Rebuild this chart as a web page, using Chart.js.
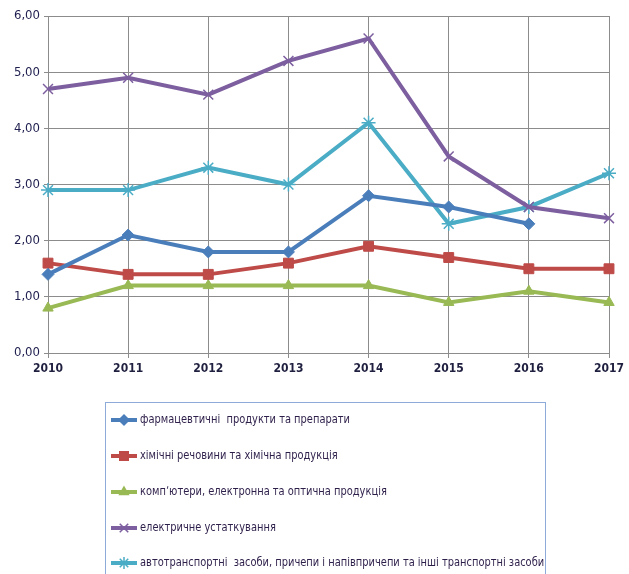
<!DOCTYPE html>
<html>
<head>
<meta charset="utf-8">
<script src="https://cdn.jsdelivr.net/npm/chart.js"></script>
<style>
  html, body { margin: 0; padding: 0; background: #fff; }
  #wrap { width: 629px; height: 574px; }
</style>
</head>
<body>
<div id="wrap"><canvas id="myChart" width="629" height="574"></canvas></div>
<script>
// data
var years = ['2010', '2011', '2012', '2013', '2014', '2015', '2016', '2017'];
var pharma = [1.4, 2.1, 1.8, 1.8, 2.8, 2.6, 2.3, null];
var chemical = [1.6, 1.4, 1.4, 1.6, 1.9, 1.7, 1.5, 1.5];
var computers = [0.8, 1.2, 1.2, 1.2, 1.2, 0.9, 1.1, 0.9];
var electric = [4.7, 4.9, 4.6, 5.2, 5.6, 3.5, 2.6, 2.4];
var vehicles = [2.9, 2.9, 3.3, 3.0, 4.1, 2.3, 2.6, 3.2];
var seriesNames = [
  'фармацевтичні  продукти та препарати',
  'хімічні речовини та хімічна продукція',
  'комп\u02bcютери, електронна та оптична продукція',
  'електричне устаткування',
  'автотранспортні  засоби, причепи і напівпричепи та інші транспортні засоби'
];
var yTicks = [0, 1, 2, 3, 4, 5, 6];

var fontFam = '"DejaVu Sans Condensed", "Liberation Sans Narrow", Arial, sans-serif';

function mk(label, data, color, style, radius) {
  return {
    label: label,
    data: data,
    borderColor: color,
    backgroundColor: color,
    borderWidth: 4,
    pointStyle: style,
    pointRadius: radius,
    pointBorderWidth: style === 'crossRot' || style === 'star' ? 1.5 : 1,
    tension: 0,
    spanGaps: false
  };
}

// legend box drawn on the canvas below the plot
var boxLegend = {
  id: 'boxLegend',
  afterDraw: function(chart) {
    var c = chart.ctx;
    c.save();
    c.strokeStyle = '#8eaad8';
    c.lineWidth = 1;
    c.strokeRect(105.5, 402.5, 440, 200);
    var rowY = [420, 456, 492, 528, 563];
    chart.data.datasets.forEach(function(ds, i) {
      var y = rowY[i];
      c.strokeStyle = ds.borderColor;
      c.fillStyle = ds.borderColor;
      c.lineWidth = 4;
      c.beginPath();
      c.moveTo(111, y);
      c.lineTo(137, y);
      c.stroke();
      c.lineWidth = 1.5;
      Chart.helpers.drawPoint(c, {
        pointStyle: ds.pointStyle,
        radius: ds.pointRadius - 1,
        borderWidth: 1.5
      }, 124, y);
      c.save();
      c.translate(140, y);
      c.scale(0.845, 1);
      c.fillStyle = '#2e1f4a';
      c.font = '13px ' + fontFam;
      c.textBaseline = 'middle';
      c.textAlign = 'left';
      c.fillText(ds.label, 0, 0);
      c.restore();
    });
    c.restore();
  }
};

var ctx = document.getElementById('myChart').getContext('2d');
new Chart(ctx, {
  type: 'line',
  data: {
    labels: years,
    datasets: [
      mk(seriesNames[0], pharma, '#4a7ebb', 'rectRot', 6),
      mk(seriesNames[1], chemical, '#be4b48', 'rect', 7),
      mk(seriesNames[2], computers, '#98b954', 'triangle', 6),
      mk(seriesNames[3], electric, '#7d5fa0', 'crossRot', 7),
      mk(seriesNames[4], vehicles, '#4bacc6', 'star', 7)
    ]
  },
  plugins: [boxLegend],
  options: {
    responsive: false,
    animation: false,
    layout: { padding: { top: 16, right: 20, bottom: 181, left: 0 } },
    plugins: {
      legend: { display: false },
      tooltip: { enabled: false }
    },
    scales: {
      x: {
        offset: false,
        grid: { color: '#8c8c8c', lineWidth: 1, drawTicks: true, tickLength: 5 },
        border: { color: '#8c8c8c' },
        ticks: {
          color: '#1f1f3f',
          font: { family: fontFam, size: 12, weight: 'bold' },
          maxRotation: 0,
          padding: 4
        },
        afterFit: function(s) { s.height = 40; }
      },
      y: {
        min: 0,
        max: 6,
        afterBuildTicks: function(s) {
          s.ticks = yTicks.map(function(v) { return { value: v }; });
        },
        grid: { color: '#8c8c8c', lineWidth: 1, drawTicks: true, tickLength: 4 },
        border: { color: '#8c8c8c' },
        ticks: {
          color: '#1f1f4f',
          font: { family: fontFam, size: 13 },
          padding: 4,
          callback: function(v) { return v.toFixed(2).replace('.', ','); }
        },
        afterFit: function(s) { s.width = 48; }
      }
    }
  }
});
</script>
</body>
</html>
